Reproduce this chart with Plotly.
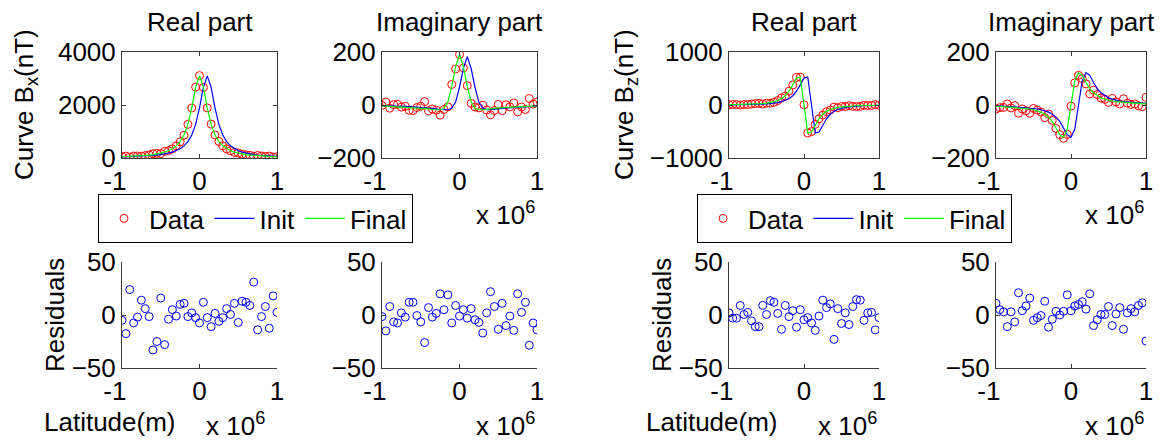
import plotly.graph_objects as go

# Latitude grid (units of 10^6 m)
latitude = [-1.0, -0.95, -0.9, -0.85, -0.8, -0.75, -0.7, -0.65, -0.6, -0.55, -0.5,
            -0.45, -0.4, -0.35, -0.3, -0.25, -0.2, -0.15, -0.1, -0.05, 0.0,
            0.05, 0.1, 0.15, 0.2, 0.25, 0.3, 0.35, 0.4, 0.45, 0.5,
            0.55, 0.6, 0.65, 0.7, 0.75, 0.8, 0.85, 0.9, 0.95, 1.0]

# Bx real part
bx_re_data = [53, 71, 35, 74, 76, 70, 90, 112, 162, 177, 166, 250, 279, 345, 459, 609, 859, 1270, 1887, 2675,
              3108, 2660, 1892, 1280, 868, 625, 460, 344, 274, 211, 189, 139, 117, 101, 65, 98, 76, 58, 72, 35, 46]
bx_re_init = [40, 44, 48, 53, 59, 66, 74, 84, 96, 110, 129, 152, 182, 222, 275, 350, 458, 619, 870, 1269, 1889,
              2672, 3100, 2672, 1889, 1269, 870, 619, 458, 350, 275, 222, 182, 152, 129, 110, 96, 84, 74, 66, 59]
bx_re_final = [48, 53, 59, 66, 74, 84, 96, 110, 129, 152, 182, 222, 275, 350, 458, 619, 870, 1269, 1889, 2672,
               3100, 2672, 1889, 1269, 870, 619, 458, 350, 275, 222, 182, 152, 129, 110, 96, 84, 74, 66, 59, 53, 48]
bx_re_resid = [-5, -17.6, 24, -7.5, -2, 14, 6, -1.5, -33, -25, 16, -28, -4, 5, -1, 10, 11, -1.5, 2, -2.5,
               -7.5, 12, -2.5, -11, 1.5, -6, -2.5, 6, 0.5, 11, -7, 13, 12, 9, 31, -14, -1.5, 8, -12.5, 18, 2.5]

# Bx imaginary part
bx_im_data = [-1.5, 11, -12, 1.5, 2.5, -8, -5, -20, -21, -9.5, -4.5, 13, -22, -15, -19.5, -38, -17, -7, 77.5, 136,
              191, 140, 73, 6, -7.5, -11, -1, -19, -37, -21, 2.5, -21, 1, -7, 7.5, -26, -7.5, -17, 24.5, 3.5, 11]
bx_im_init = [-3, -3, -3, -4, -4, -5, -5, -6, -7, -8, -9, -10, -11, -13, -15, -17, -18, -18, -12, 11, 67,
              138, 182, 138, 67, 11, -12, -18, -18, -17, -15, -13, -11, -10, -9, -8, -7, -6, -5, -5, -4]
bx_im_final = [-3, -4, -4, -5, -5, -6, -7, -8, -9, -10, -11, -13, -15, -17, -18, -18, -12, 12, 70, 145,
               190, 145, 70, 12, -12, -18, -18, -17, -15, -13, -11, -10, -9, -8, -7, -6, -5, -5, -4, -4, -3]
bx_im_resid = [-1.5, -15, 8, -6.5, -7.5, 2, -2, 12, 12, -0.5, -6.5, -26, 7, -2, 1.5, 20, 5, 19, -7.5, 9,
               -1, 5, -3, 6, -4.5, -7, -17, 2, 22, 8, -13.5, 11, -10, -1, -14.5, 20, 2.5, 12, -28.5, -7.5, -14]

# Bz real part
bz_re_data = [3, 9, 10, -1, 9.5, 9.5, 19.5, 28, 32, 18, 34.5, 32.5, 50, 83.5, 133.5, 166, 261.5, 376, 521.5, 525,
              4.5, -527.5, -502.5, -365.5, -259, -189, -127, -95.5, -39, -52, -27, -29, -12, -25, -28.5, -26,
              -5, -10, -9.5, 8, -2.5]
bz_re_init = [4, 4, 5, 6, 7, 8, 10, 12, 14, 17, 21, 27, 35, 46, 62, 85, 120, 175, 260, 380, 510,
              530, 0, -530, -510, -380, -260, -175, -120, -85, -62, -46, -35, -27, -21, -17, -14, -12, -10, -8, -7]
bz_re_final = [5, 6, 7, 8, 10, 12, 14, 17, 21, 27, 35, 46, 62, 85, 120, 175, 260, 380, 510, 530,
               0, -530, -510, -380, -260, -175, -120, -85, -62, -46, -35, -27, -21, -17, -14, -12, -10, -8, -7, -6, -5]
bz_re_resid = [2, -3, -3, 9, 0.5, 2.5, -5.5, -11, -11, 9, 0.5, 13.5, 12, 1.5, -13.5, 9, -1.5, 4, -11.5, 5,
               -4.5, -2.5, -7.5, -14.5, -1, 14, 7, 10.5, -23, 6, -8, 2, -9, 8, 14.5, 14, -5, 2, 2.5, -14, -2.5]

# Bz imaginary part
bz_im_data = [-15, -10, -9, 4, -11, -2.5, -31, -15, -21.5, -31, -13, -19.5, -26.5, -48, -34.5, -58, -88.5, -112,
              -125.5, -111, -4, 83.5, 112, 99.5, 79.5, 42, 56, 39.5, 26.5, 21.5, 10, 25, 12, 4, 23.5, 7, 2, 4,
              -3, -6.5, 28.5]
bz_im_init = [-3, -3, -4, -5, -6, -7, -8, -9, -10, -11, -13, -15, -18, -22, -27, -35, -46, -62, -85, -112, -122,
              -92, 0, 92, 122, 112, 85, 62, 46, 35, 27, 22, 18, 15, 13, 11, 10, 9, 8, 7, 6]
bz_im_final = [-4, -5, -6, -7, -8, -9, -10, -11, -13, -15, -18, -22, -27, -35, -46, -62, -85, -112, -122, -92,
               0, 92, 122, 112, 85, 62, 46, 35, 27, 22, 18, 15, 13, 11, 10, 9, 8, 7, 6, 5, 4]
bz_im_resid = [11, 5, 3, -11, 3, -6.5, 21, 4, 8.5, 16, -5, -2.5, -0.5, 13, -11.5, -4, 3.5, 0, 3.5, 19,
               4, 8.5, 10, 12.5, 5.5, 20, -10, -4.5, 0.5, 0.5, 8, -10, 1, 7, -13.5, 2, 6, 3, 9, 11.5, -24.5]

x_ticks = [-1, 0, 1]
x_ticktext = ["-1\u2007", "0", "1"]
top_yticks = [[0, 2000, 4000], [-200, 0, 200], [-1000, 0, 1000], [-200, 0, 200]]
resid_yticks = [-50, 0, 50]
titles = ["Real part", "Imaginary part", "Real part", "Imaginary part"]

W, H = 1163, 441
FONT = "Liberation Sans, Arial, Helvetica, sans-serif"
FS = 26
AX = "#3a3a3a"


def fx(px):
    return px / W


def fy(py):
    return 1 - py / H


cols = [(122, 277), (382, 537), (729, 879), (996, 1146)]
top_row = (52, 158)
bot_row = (262, 368)

fig = go.Figure()

top_sets = [
    (bx_re_data, bx_re_init, bx_re_final, "legend"),
    (bx_im_data, bx_im_init, bx_im_final, None),
    (bz_re_data, bz_re_init, bz_re_final, "legend2"),
    (bz_im_data, bz_im_init, bz_im_final, None),
]
resids = [bx_re_resid, bx_im_resid, bz_re_resid, bz_im_resid]

for i, (d, ini, fin, leg) in enumerate(top_sets):
    ax = i + 1
    xa = "x" if ax == 1 else f"x{ax}"
    ya = "y" if ax == 1 else f"y{ax}"
    show = leg is not None
    kw = dict(legend=leg) if show else {}
    fig.add_trace(go.Scatter(x=latitude, y=d, mode="markers", name="Data", xaxis=xa, yaxis=ya,
                             marker=dict(symbol="circle-open", size=8, color="#ff0000", line=dict(width=1)),
                             showlegend=show, **kw))
    fig.add_trace(go.Scatter(x=latitude, y=ini, mode="lines", name="Init", xaxis=xa, yaxis=ya,
                             line=dict(color="#0000ff", width=1.2), showlegend=show, **kw))
    fig.add_trace(go.Scatter(x=latitude, y=fin, mode="lines", name="Final", xaxis=xa, yaxis=ya,
                             line=dict(color="#00ff00", width=1.2), showlegend=show, **kw))

for i, r in enumerate(resids):
    ax = i + 5
    fig.add_trace(go.Scatter(x=latitude, y=r, mode="markers", xaxis=f"x{ax}", yaxis=f"y{ax}",
                             marker=dict(symbol="circle-open", size=8, color="#0000ff", line=dict(width=1)),
                             showlegend=False))

layout = dict(template="none", width=W, height=H, margin=dict(l=0, r=0, t=0, b=0, pad=0),
              paper_bgcolor="white", plot_bgcolor="white",
              font=dict(family=FONT, size=FS, color="black"))

for i in range(8):
    ax = i + 1
    c = cols[i % 4]
    row = top_row if i < 4 else bot_row
    xk = "xaxis" if ax == 1 else f"xaxis{ax}"
    yk = "yaxis" if ax == 1 else f"yaxis{ax}"
    box = i < 4
    common = dict(showline=True, linecolor=AX, linewidth=1, ticks="inside", ticklen=4, tickcolor=AX,
                  showgrid=False, zeroline=False, mirror="ticks" if box else False, automargin=False,
                  tickfont=dict(family=FONT, size=FS, color="black"))
    layout[xk] = dict(domain=[fx(c[0]), fx(c[1])], range=[-1, 1], anchor="y" if ax == 1 else f"y{ax}",
                      tickvals=x_ticks, ticktext=x_ticktext, **common)
    yt = top_yticks[i] if box else resid_yticks
    layout[yk] = dict(domain=[fy(row[1]), fy(row[0])], range=[yt[0], yt[-1]],
                      anchor="x" if ax == 1 else f"x{ax}", tickvals=yt, **common)

legend_common = dict(y=fy(194), xanchor="left", yanchor="top", orientation="h",
                     bordercolor="black", borderwidth=1, bgcolor="white", itemwidth=40,
                     font=dict(family=FONT, size=FS, color="black"))
layout["legend"] = dict(x=fx(98), **legend_common)
layout["legend2"] = dict(x=fx(697), **legend_common)

ann = []


def text(t, x, y, angle=0, xanchor="center"):
    ann.append(dict(text=t, x=fx(x), y=fy(y), xref="paper", yref="paper", showarrow=False,
                    xanchor=xanchor, yanchor="middle", textangle=angle,
                    font=dict(family=FONT, size=FS, color="black")))


for i, c in enumerate(cols):
    text(titles[i], (c[0] + c[1]) / 2, 22)

text("Curve B<sub>x</sub>(nT)", 25, 105, -90)
text("Curve B<sub>z</sub>(nT)", 625, 105, -90)
text("Residuals", 55, 315, -90)
text("Residuals", 662, 315, -90)
text("Latitude(m)", 110, 422)
text("Latitude(m)", 712, 422)
text("x 10<sup>6</sup>", 537, 213, xanchor="right")
text("x 10<sup>6</sup>", 1146, 213, xanchor="right")
text("x 10<sup>6</sup>", 267, 424, xanchor="right")
text("x 10<sup>6</sup>", 537, 424, xanchor="right")
text("x 10<sup>6</sup>", 879, 424, xanchor="right")
text("x 10<sup>6</sup>", 1146, 424, xanchor="right")

layout["annotations"] = ann
fig.update_layout(**layout)
fig.write_html("out.html", config={"displayModeBar": False},
               post_script="document.body.style.margin='0px';document.body.style.overflow='hidden';")
